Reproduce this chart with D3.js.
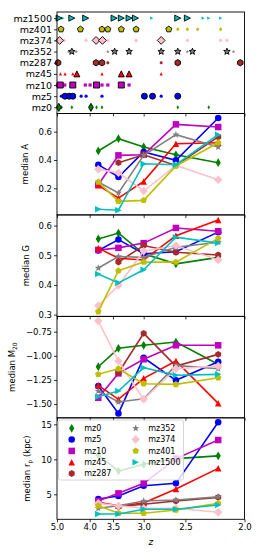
<!DOCTYPE html>
<html>
<head>
<meta charset="utf-8">
<script src="https://cdn.jsdelivr.net/npm/d3@7"></script>
<style>
  body { margin: 0; background: #fff; }
  text { font-family: 'DejaVu Sans', sans-serif; fill: #000; }
</style>
</head>
<body>
<div id="chart"></div>
<script>
'use strict';

/** the simulations, in the order they are plotted */
const sims = ['mz0', 'mz5', 'mz10', 'mz45', 'mz287', 'mz352', 'mz374', 'mz401', 'mz1500'];
const simColors = ['#008000', '#0000ff', '#bf00bf', '#ff0000', '#a52a2a', '#808080', '#ffc0cb', '#bfbf00', '#00bfbf'];
const simMarkers = ['thin_diamond', 'circle', 'square', 'triangle_up', 'hexagon', 'star', 'diamond', 'pentagon', 'triangle_right'];

/** redshift bins of the median curves */
const zBins = [3.8, 3.4, 3.0, 2.6, 2.2];

// median values, one row per simulation (null = no galaxies in that bin)
const medianA = [
  [0.464, 0.551, 0.492, 0.437, 0.381],
  [0.367, 0.280, 0.457, 0.398, 0.697],
  [0.225, 0.433, 0.437, 0.652, 0.633],
  [0.221, 0.131, 0.249, 0.515, 0.522],
  [null, 0.381, 0.437, 0.362, 0.563],
  [0.245, 0.167, 0.433, 0.579, 0.492],
  [0.334, 0.310, 0.181, 0.362, 0.261],
  [0.245, 0.108, 0.115, 0.358, 0.522],
  [0.052, 0.045, 0.374, 0.367, 0.579]
];
const medianG = [
  [0.555, 0.575, 0.505, 0.471, 0.493],
  [0.516, 0.553, 0.505, 0.512, 0.578],
  [0.518, 0.525, 0.541, 0.592, 0.581],
  [0.524, 0.490, 0.484, 0.566, 0.619],
  [null, 0.477, 0.533, 0.510, 0.501],
  [0.457, 0.496, 0.493, 0.527, 0.544],
  [0.330, 0.398, 0.514, 0.533, 0.484],
  [0.310, 0.448, 0.477, 0.477, 0.557],
  [0.437, 0.407, 0.451, 0.561, 0.541]
];
const medianM20 = [
  [-1.113, -0.922, -0.891, -0.857, -1.088],
  [-1.313, -1.597, -1.020, -1.254, -1.061],
  [-1.435, -1.182, -1.036, -0.891, -0.891],
  [-1.306, -1.451, -1.233, -1.054, -1.493],
  [null, -1.175, -0.767, -1.106, -0.985],
  [-1.365, -1.479, -1.445, -1.099, -1.134],
  [-0.639, -1.054, -1.451, -1.134, -1.106],
  [-1.192, -1.134, -1.289, -1.296, -1.227],
  [-1.424, -1.365, -1.123, -1.202, -1.192]
];
const medianRp = [
  [10.6, 8.3, 9.29, 10.1, 10.5],
  [4.33, 4.76, 6.23, 6.57, 15.3],
  [4.04, 5.14, 6.57, 10.1, 12.76],
  [3.86, 3.37, 3.75, 5.76, 8.71],
  [null, 3.23, 3.57, 4.04, 4.57],
  [3.0, 3.37, 4.04, 4.19, 4.66],
  [3.71, 3.37, 3.0, 3.0, 2.43],
  [3.37, 2.29, 2.29, 2.76, 3.71],
  [2.19, 2.19, 2.86, 2.86, 3.47]
];

// snapshot redshifts of each simulation (top panel): large = outlined markers, small = the rest
const snapBig = [
  [4.93, 3.97],
  [4.71, 4.57, 4.46, 2.99, 2.88, 2.58],
  [4.88, 4.46, 3.84, 3.35],
  [4.34, 3.35, 3.22],
  [4.96, 3.85, 3.72, 2.58, 2.03],
  [4.49, 3.47, 3.22, 2.77, 2.58, 2.43, 2.13],
  [4.90, 3.85, 3.71, 2.77],
  [4.85, 4.24, 3.72, 3.60, 3.35, 3.11, 2.68],
  [4.92, 4.49, 4.10, 3.48, 3.35, 3.22, 3.12, 2.58, 2.48]
];
const snapSmall = [
  [4.83, 4.49, 3.84, 3.72, 2.58, 2.28],
  [4.84, 4.22, 4.09, 3.72, 2.77],
  [4.98, 4.72, 4.11, 3.99, 3.72, 3.60, 3.22],
  [4.87, 4.71, 4.46, 3.72, 2.77],
  [3.60, 2.77],
  [4.59, 4.36, 3.60, 2.48, 2.08],
  [4.74, 4.09, 3.60, 3.11, 2.48, 2.18, 2.13],
  [2.58, 2.48, 2.38, 2.18],
  [4.78, 2.89, 2.33, 2.28, 2.18]
];

/** redshift tick labels of the x axis */
const zTicks = [5.0, 4.0, 3.5, 3.0, 2.5, 2.0];

/** the line panels: values, y limits, y ticks and label */
const panels = [
  { values: medianA, domain: [0.012, 0.729], ticks: [0.2, 0.4, 0.6], fmt: '.1f', label: ['median A'], labelX: 25 },
  { values: medianG, domain: [0.294, 0.636], ticks: [0.3, 0.4, 0.5, 0.6], fmt: '.1f', label: ['median G'], labelX: 26 },
  { values: medianM20, domain: [-1.643, -0.591], ticks: [-1.5, -1.25, -1.0, -0.75], fmt: '.2f', label: ['median M', '20'], labelX: 12.5 },
  { values: medianRp, domain: [1.43, 15.93], ticks: [5, 10, 15], fmt: 'd', label: ['median r', 'p', ' (kpc)'], labelX: 27 }
];

const width = 263;
const height = 560;
const left = 57;
const right = 244.5;
const panelTop = 12;
const panelH = 101.46;

/** age of the universe in Gyr at redshift z (flat LCDM), the x axis is linear in it */
function cosmicAge (z) {
  return 11.13 * Math.asinh(1.5275 * Math.pow(1 + z, -1.5));
}

const x = d3.scaleLinear()
  .domain([cosmicAge(5), cosmicAge(2)])
  .range([left, right]);
const xz = z => x(cosmicAge(z));

/** path of a matplotlib-like marker of size ms centred on 0,0 */
function markerPath (shape, ms) {
  const r = ms / 2;
  const poly = pts => 'M' + pts.map(p => p[0].toFixed(2) + ',' + p[1].toFixed(2)).join('L') + 'Z';
  const regular = (n, rad, rot) => d3.range(n).map(k => {
    const a = rot + k * 2 * Math.PI / n;
    return [rad * Math.cos(a), rad * Math.sin(a)];
  });
  switch (shape) {
    case 'circle': return d3.symbol(d3.symbolCircle, Math.PI * r * r)();
    case 'square': return poly([[-r, -r], [r, -r], [r, r], [-r, r]]);
    case 'triangle_up': return poly([[0, -r], [r, r], [-r, r]]);
    case 'triangle_right': return poly([[r, 0], [-r, r], [-r, -r]]);
    case 'diamond': return poly([[0, -r * 1.3], [r * 1.3, 0], [0, r * 1.3], [-r * 1.3, 0]]);
    case 'thin_diamond': return poly([[0, -r * 1.35], [r * 0.8, 0], [0, r * 1.35], [-r * 0.8, 0]]);
    case 'pentagon': return poly(regular(5, r * 1.05, -Math.PI / 2));
    case 'hexagon': return poly(regular(6, r * 1.05, -Math.PI / 2));
    case 'star': {
      const pts = d3.range(10).map(k => {
        const a = -Math.PI / 2 + k * Math.PI / 5;
        const rad = k % 2 ? r * 0.5 : r * 1.15;
        return [rad * Math.cos(a), rad * Math.sin(a)];
      });
      return poly(pts);
    }
  }
  return '';
}

const svg = d3.select('#chart')
  .append('svg')
    .attr('width', width)
    .attr('height', height);

/** draws the bottom x ticks of a panel, with labels only on the last one */
function drawXAxis (bottom, withLabels) {
  const ax = svg.append('g')
    .attr('transform', `translate(0,${bottom})`)
    .call(d3.axisBottom(x)
      .tickValues(zTicks.map(cosmicAge))
      .tickSize(3)
      .tickPadding(2)
      .tickFormat((d, i) => d3.format('.1f')(zTicks[i])));
  ax.select('.domain').remove();
  ax.selectAll('line').attr('stroke', '#000').attr('stroke-width', 0.8);
  if (withLabels) {
    ax.selectAll('text').style('font-size', '8.5px').attr('font-family', 'DejaVu Sans');
  } else {
    ax.selectAll('text').remove();
  }
}

function drawFrame (top, bottom) {
  svg.append('rect')
    .attr('x', left)
    .attr('y', top)
    .attr('width', right - left)
    .attr('height', bottom - top)
    .attr('fill', 'none')
    .attr('stroke', '#000')
    .attr('stroke-width', 0.9);
}

// ---------- top panel: snapshots of each simulation ----------
const top0 = panelTop;
const bottom0 = panelTop + panelH;
const yCat = d3.scaleLinear().domain([-0.55, 8.55]).range([bottom0, top0]);

sims.forEach((sim, i) => {
  svg.append('g').selectAll('path')
    .data(snapSmall[i])
    .join('path')
      .attr('d', markerPath(simMarkers[i], 3.2))
      .attr('transform', d => `translate(${xz(d)},${yCat(i)})`)
      .attr('fill', simColors[i]);
  svg.append('g').selectAll('path')
    .data(snapBig[i])
    .join('path')
      .attr('d', markerPath(simMarkers[i], 6))
      .attr('transform', d => `translate(${xz(d)},${yCat(i)})`)
      .attr('fill', simColors[i])
      .attr('stroke', '#000')
      .attr('stroke-width', 0.9);
});

const yCatAxis = svg.append('g')
  .attr('transform', `translate(${left},0)`)
  .call(d3.axisLeft(yCat)
    .tickValues(d3.range(sims.length))
    .tickSize(3)
    .tickPadding(2)
    .tickFormat(i => sims[i]));
yCatAxis.select('.domain').remove();
yCatAxis.selectAll('line').attr('stroke', '#000').attr('stroke-width', 0.8);
yCatAxis.selectAll('text').style('font-size', '9.5px').attr('font-family', 'DejaVu Sans');

drawXAxis(bottom0, false);
drawFrame(top0, bottom0);

// ---------- the median panels ----------
const line = d3.line()
  .x(d => xz(d[0]))
  .y(d => d[2]);

panels.forEach((p, k) => {
  const top = panelTop + (k + 1) * panelH;
  const bottom = top + panelH;
  const y = d3.scaleLinear().domain(p.domain).range([bottom, top]);

  sims.forEach((sim, i) => {
    const pts = zBins.map((z, j) => [z, p.values[i][j]])
      .filter(d => d[1] !== null)
      .map(d => [d[0], d[1], y(d[1])]);
    svg.append('path')
      .attr('d', line(pts))
      .attr('fill', 'none')
      .attr('stroke', simColors[i])
      .attr('stroke-width', 1.6);
    svg.append('g').selectAll('path')
      .data(pts)
      .join('path')
        .attr('d', markerPath(simMarkers[i], 6.5))
        .attr('transform', d => `translate(${xz(d[0])},${d[2]})`)
        .attr('fill', simColors[i]);
  });

  const yAxis = svg.append('g')
    .attr('transform', `translate(${left},0)`)
    .call(d3.axisLeft(y)
      .tickValues(p.ticks)
      .tickSize(3)
      .tickPadding(2)
      .tickFormat(d3.format(p.fmt)));
  yAxis.select('.domain').remove();
  yAxis.selectAll('line').attr('stroke', '#000').attr('stroke-width', 0.8);
  yAxis.selectAll('text').style('font-size', '8.5px').attr('font-family', 'DejaVu Sans');

  // y label, with an optional subscript
  const lab = svg.append('text')
    .attr('transform', `translate(${p.labelX},${(top + bottom) / 2}) rotate(-90)`)
    .attr('text-anchor', 'middle')
    .attr('dy', '0.35em')
    .style('font-size', '8.5px');
  lab.append('tspan').text(p.label[0]);
  if (p.label.length > 1) {
    lab.append('tspan').attr('dy', 2).style('font-size', '6px').text(p.label[1]);
  }
  if (p.label.length > 2) {
    lab.append('tspan').attr('dy', -2).text(p.label[2]);
  }

  drawXAxis(bottom, k === panels.length - 1);
  drawFrame(top, bottom);
});

// ---------- legend in the last panel ----------
const legend = svg.append('g');
legend.append('rect')
  .attr('x', 58.5)
  .attr('y', 420)
  .attr('width', 125)
  .attr('height', 60)
  .attr('rx', 2)
  .attr('fill', '#fff')
  .attr('fill-opacity', 0.8)
  .attr('stroke', '#cccccc')
  .attr('stroke-width', 0.8);

sims.forEach((sim, i) => {
  const col = i < 5 ? 0 : 1;
  const row = i < 5 ? i : i - 5;
  const lx = col === 0 ? 71.7 : 135.7;
  const ly = 428.3 + row * 11.3;
  legend.append('path')
    .attr('d', markerPath(simMarkers[i], 6.5))
    .attr('transform', `translate(${lx},${ly})`)
    .attr('fill', simColors[i]);
  legend.append('text')
    .attr('x', lx + 12.5)
    .attr('y', ly)
    .attr('dy', '0.35em')
    .style('font-size', '8px')
    .text(sim);
});

// x axis label
svg.append('text')
  .attr('x', (left + right) / 2)
  .attr('y', 545)
  .attr('text-anchor', 'middle')
  .style('font-size', '9px')
  .style('font-style', 'italic')
  .text('z');
</script>
</body>
</html>
